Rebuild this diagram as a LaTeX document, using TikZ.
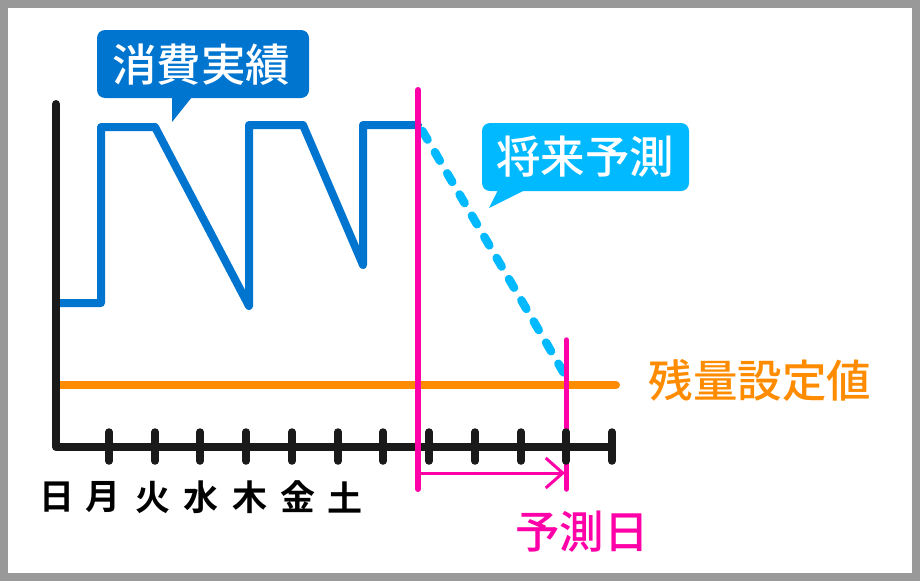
\documentclass[tikz,border=0pt]{standalone}
\usepackage{fontspec}
\usetikzlibrary{arrows.meta}
\newfontfamily\cjk{Noto Sans CJK JP Medium}[BoldFont={Noto Sans CJK JP Bold}]
\definecolor{frameC}{HTML}{999999}
\definecolor{inkC}{HTML}{1A1A1A}
\definecolor{blueC}{HTML}{0075D0}
\definecolor{cyanC}{HTML}{00B9FF}
\definecolor{pinkC}{HTML}{FF00A8}
\definecolor{orangeC}{HTML}{FF8C00}
\tikzset{
  bigtext/.style={font=\cjk\fontsize{44.5}{45}\selectfont,inner sep=0pt,anchor=center},
  daytext/.style={font=\cjk\bfseries\fontsize{35}{36}\selectfont,inner sep=0pt,anchor=center,text=black},
  axisline/.style={draw=inkC,line width=8pt,line cap=round,line join=round},
  tickline/.style={draw=inkC,line width=7.5pt,line cap=round},
  useline/.style={draw=blueC,line width=8pt,line cap=round,line join=round},
  pinkline/.style={draw=pinkC,line cap=round},
}
\begin{document}
\begin{tikzpicture}[x=1pt,y=-1pt]
\useasboundingbox (0,0) rectangle (920,581);
\fill[frameC] (0,0) rectangle (920,581);
\fill[white] (8,8) rectangle (912,573);
% forecast dashes
\coordinate (fs) at (422.5,131);
\coordinate (fe) at (565,375);
\draw[draw=cyanC,line width=8.5pt,line cap=round,dash pattern=on 10pt off 14.5pt] (fs) -- (fe);
% threshold
\coordinate (os) at (58,385);
\coordinate (oe) at (616,385);
\draw[draw=orangeC,line width=8pt,line cap=round] (os) -- (oe);
% axes
\coordinate (ax0) at (56,104);
\coordinate (ax1) at (56,447);
\coordinate (ax2) at (612,447);
% consumption
\draw[useline] (56,303) -- (101,303) -- (101,127) -- (155,127) -- (249,306) -- (249,125) -- (303,125) -- (363,265) -- (363,125) -- (418,125);
\draw[axisline] (ax0) -- (ax1) -- (ax2);
% pink right marker under ticks
\coordinate (pr0) at (566.5,340);
\coordinate (pr1) at (566.5,489);
\draw[pinkline,line width=5.5pt] (pr0) -- (pr1);
% ticks
\foreach \x in {109,155,200,246,292,338,383,429,475,521,566,612}
  \draw[tickline] (\x,432) -- (\x,461);
% pink left marker
\coordinate (pl0) at (418,90);
\coordinate (pl1) at (418,489);
\draw[pinkline,line width=6pt] (pl0) -- (pl1);
\coordinate (as) at (418,473);
\coordinate (ae) at (565,473);
\draw[draw=pinkC,line width=3pt,-{Straight Barb[length=17pt,width=30pt,line width=3pt]}] (as) -- (ae);
% callouts
\fill[blueC,rounded corners=8pt] (97,30) rectangle (309,98);
\fill[blueC] (172,97) -- (172,122) -- (192,97) -- cycle;
\node[bigtext,text=white] (c1) at (201,64.5) {消費実績};
\fill[cyanC,rounded corners=8pt] (482,123) rectangle (689,191);
\fill[cyanC] (498,190) -- (489,208) -- (525,190) -- cycle;
\node[bigtext,text=white] (c2) at (585,157) {将来予測};
% labels
\node[bigtext,text=orangeC] (t1) at (760,380) {残量設定値};
\node[bigtext,text=pinkC] (t2) at (582,532) {予測日};
\node[daytext] (d0) at (57,497) {日};
\node[daytext] (d1) at (103,497) {月};
\node[daytext] (d2) at (153,497) {火};
\node[daytext] (d3) at (201,497) {水};
\node[daytext] (d4) at (250,497) {木};
\node[daytext] (d5) at (298,497) {金};
\node[daytext] (d6) at (345,497) {土};
\end{tikzpicture}
\end{document}
